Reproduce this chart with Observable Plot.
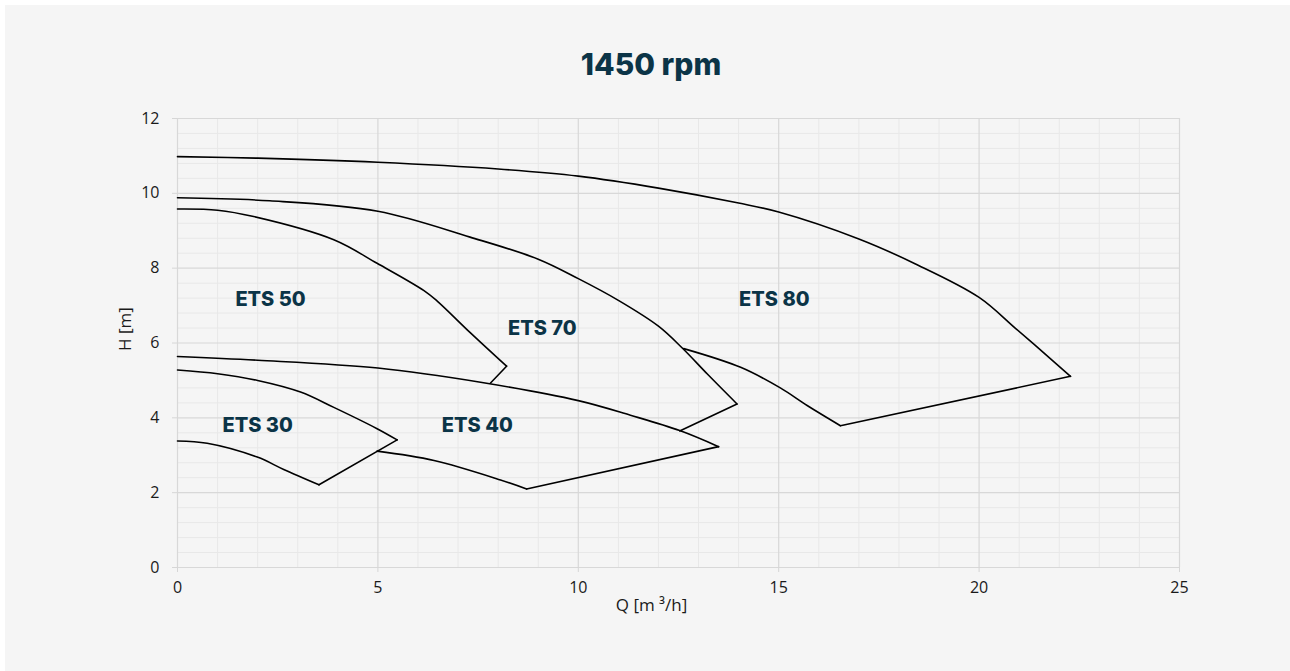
<!DOCTYPE html>
<html>
<head>
<meta charset="utf-8">
<script src="https://cdn.jsdelivr.net/npm/d3@7"></script>
<script src="https://cdn.jsdelivr.net/npm/@observablehq/plot@0.6"></script>
<style>
  html, body { margin: 0; padding: 0; background: #ffffff; width: 1290px; height: 671px; overflow: hidden; }
  #panel { position: absolute; left: 5px; top: 5px; width: 1285px; height: 666px; background: #f5f5f5; }
  #title { position: absolute; top: 46px; left: 651px; transform: translateX(-50%); font-family: Inter, "Open Sans", sans-serif; font-weight: 800; font-size: 30px; color: #0b3447; white-space: nowrap; }
  #chart { position: absolute; left: 5px; top: 100px; }
  #chart svg { background: transparent; }
</style>
</head>
<body>
<div id="panel"></div>
<div id="title">1450 rpm</div>
<div id="chart"></div>
<script>
// ---- data ----
const ets30TopQ = [0, 1, 2, 3.07, 3.9, 4.98, 5.48];
const ets30TopH = [5.28, 5.18, 5.0, 4.69, 4.28, 3.71, 3.41];
const ets30BotQ = [0, 0.74, 1.99, 2.65, 3.53];
const ets30BotH = [3.38, 3.32, 2.95, 2.62, 2.21];

const ets40TopQ = [0, 2, 5, 7.56, 10, 11.3, 12.53, 13.5];
const ets40TopH = [5.64, 5.54, 5.33, 4.95, 4.46, 4.07, 3.66, 3.23];
const ets40BotQ = [4.98, 6.4, 8.06, 8.71];
const ets40BotH = [3.11, 2.86, 2.34, 2.10];

const ets50TopQ = [0, 1, 1.9, 3.9, 4.98, 6.15, 6.48, 7.31, 8.21];
const ets50TopH = [9.58, 9.55, 9.38, 8.76, 8.13, 7.40, 7.12, 6.27, 5.38];
const ets50BotQ = [7.81];
const ets50BotH = [4.93];

const ets70TopQ = [0, 2.3, 5, 7.3, 9, 10, 11, 12, 12.6, 13.22, 13.96];
const ets70TopH = [9.88, 9.8, 9.52, 8.83, 8.24, 7.72, 7.14, 6.45, 5.86, 5.17, 4.37];
const ets70BotQ = [12.53];
const ets70BotH = [3.65];

const ets80TopQ = [0, 2, 5, 8, 10, 12, 14, 15, 17, 18.4, 20, 20.9, 21.6, 22.28];
const ets80TopH = [10.98, 10.94, 10.83, 10.65, 10.46, 10.14, 9.74, 9.5, 8.78, 8.12, 7.22, 6.40, 5.75, 5.11];
const ets80BotQ = [12.63, 14.05, 15.04, 15.71, 16.54];
const ets80BotH = [5.85, 5.35, 4.8, 4.33, 3.79];

const pumpNames = ["ETS 30", "ETS 40", "ETS 50", "ETS 70", "ETS 80"];
const labelQ = [2.0, 7.48, 2.32, 9.1, 14.89];
const labelH = [3.80, 3.80, 7.15, 6.38, 7.15];

const xTicks = [0, 5, 10, 15, 20, 25];
const yTicks = [0, 2, 4, 6, 8, 10, 12];
const xMinor = [1, 2, 3, 4, 6, 7, 8, 9, 11, 12, 13, 14, 16, 17, 18, 19, 21, 22, 23, 24];
const yMinor = [0.4, 0.8, 1.2, 1.6, 2.4, 2.8, 3.2, 3.6, 4.4, 4.8, 5.2, 5.6, 6.4, 6.8, 7.2, 7.6, 8.4, 8.8, 9.2, 9.6, 10.4, 10.8, 11.2, 11.6];

const xLabel = "Q [m \u00B3/h]";
const yLabel = "H [m]";

// ---- build ----
const zip = (qs, hs) => qs.map((q, i) => ({q, h: hs[i]}));
const pumps = [
  {top: zip(ets30TopQ, ets30TopH), bot: zip(ets30BotQ, ets30BotH)},
  {top: zip(ets40TopQ, ets40TopH), bot: zip(ets40BotQ, ets40BotH)},
  {top: zip(ets50TopQ, ets50TopH), bot: zip(ets50BotQ, ets50BotH)},
  {top: zip(ets70TopQ, ets70TopH), bot: zip(ets70BotQ, ets70BotH)},
  {top: zip(ets80TopQ, ets80TopH), bot: zip(ets80BotQ, ets80BotH)}
];
const labels = pumpNames.map((name, i) => ({name, q: labelQ[i], h: labelH[i]}));

const lineStyle = {x: "q", y: "h", stroke: "#000", strokeWidth: 1.6, strokeLinejoin: "round"};
const curveMarks = [];
for (const p of pumps) {
  curveMarks.push(Plot.line(p.top, {...lineStyle, curve: "catmull-rom"}));
  if (p.bot.length > 1) curveMarks.push(Plot.line(p.bot, {...lineStyle, curve: "catmull-rom"}));
  curveMarks.push(Plot.line([p.top[p.top.length - 1], p.bot[p.bot.length - 1]], {...lineStyle, curve: "linear"}));
}

const chart = Plot.plot({
  width: 1285,
  height: 571,
  marginLeft: 172,
  marginRight: 111,
  marginTop: 18,
  marginBottom: 104,
  style: {fontFamily: "'Open Sans', sans-serif", fontSize: "16px", background: "transparent"},
  x: {domain: [0, 25]},
  y: {domain: [0, 12]},
  marks: [
    Plot.ruleX(xMinor, {stroke: "#e8e8e8", strokeWidth: 1}),
    Plot.ruleY(yMinor, {stroke: "#e8e8e8", strokeWidth: 1}),
    Plot.ruleX(xTicks, {stroke: "#d8d8d8", strokeWidth: 1.2}),
    Plot.ruleY(yTicks, {stroke: "#d8d8d8", strokeWidth: 1.2}),
    Plot.axisX(xTicks, {tickSize: 5, tickPadding: 9, stroke: "#d6d6d6", fill: "#1a1a1a", fontSize: 16, label: null}),
    Plot.axisY(yTicks, {tickSize: 5, tickPadding: 13, stroke: "#d6d6d6", fill: "#1a1a1a", fontSize: 16, label: null}),
    ...curveMarks,
    Plot.text(labels, {x: "q", y: "h", text: "name", fill: "#0b3447", fontSize: 20, fontWeight: 800, fontFamily: "Inter, sans-serif"}),
    Plot.text([yLabel], {frameAnchor: "left", dx: -52, dy: 8, rotate: -90, fill: "#1a1a1a", fontSize: 17}),
    Plot.text([xLabel], {frameAnchor: "bottom", dx: -27, dy: 43, fill: "#1a1a1a", fontSize: 17})
  ]
});
document.getElementById("chart").appendChild(chart);
</script>
</body>
</html>
